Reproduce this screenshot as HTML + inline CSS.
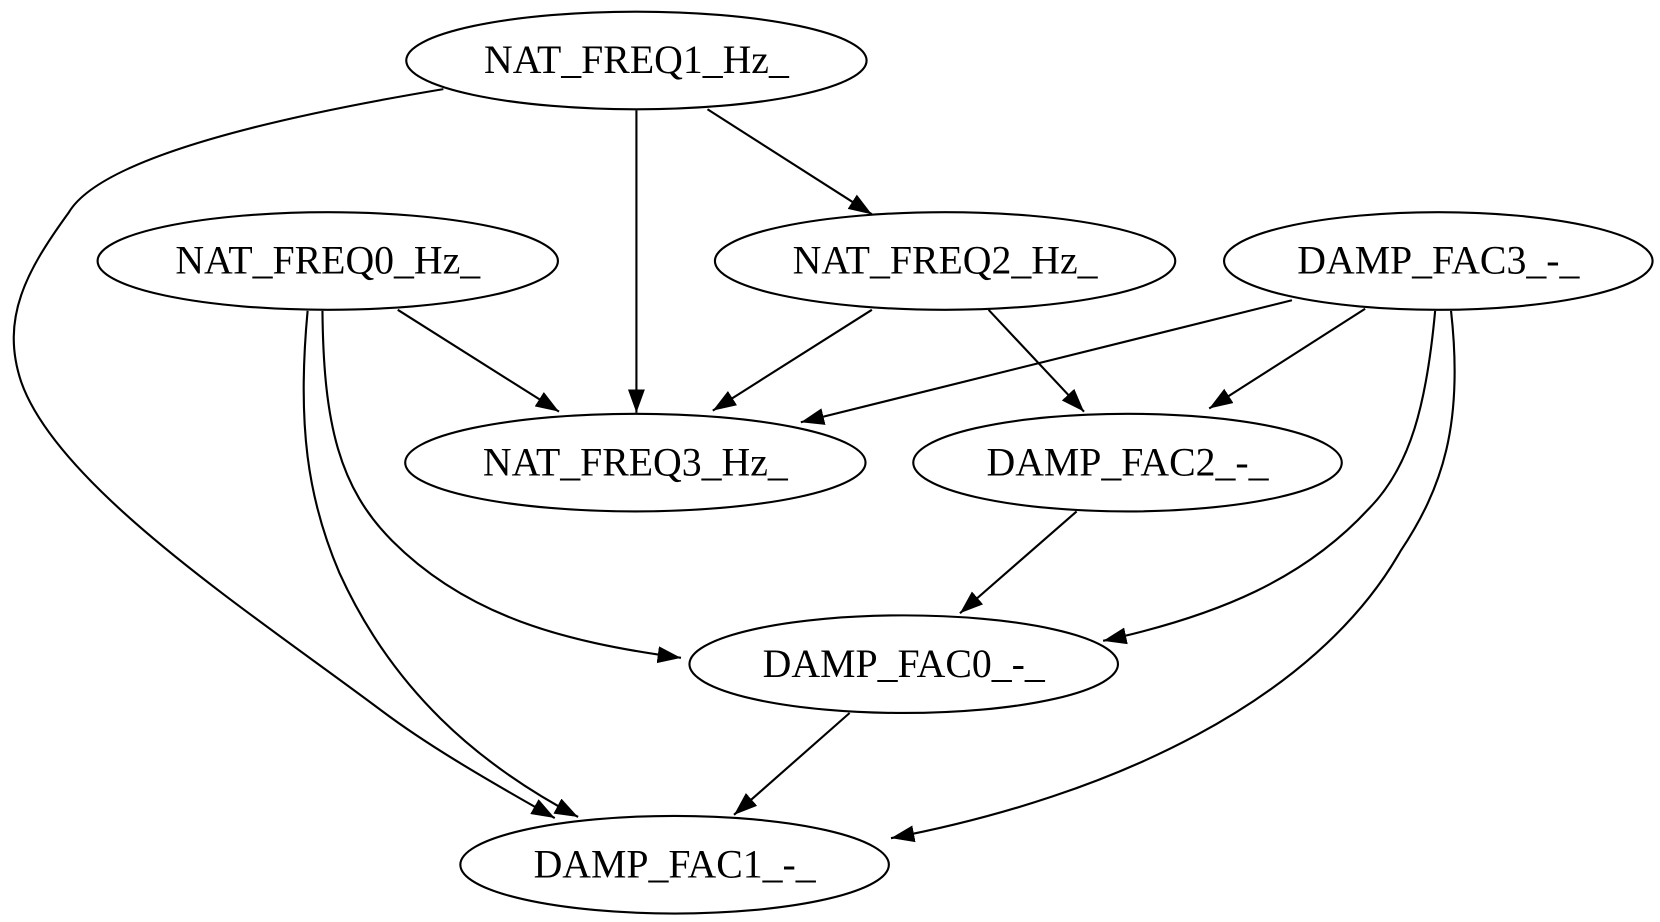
<!DOCTYPE html>
<html><head><meta charset="utf-8"><style>html,body{margin:0;padding:0;background:#fff}svg{display:block}</style></head>
<body>
<svg width="1660" height="922" viewBox="0 0 1565 869" preserveAspectRatio="none" xmlns="http://www.w3.org/2000/svg">
<defs>
<marker id="a" markerUnits="userSpaceOnUse" markerWidth="24" markerHeight="18" refX="22" refY="8" orient="auto">
<path d="M0,0 L22,8 L0,16 Z" fill="#000"/>
</marker>
</defs>
<g fill="none" stroke="#000" stroke-width="2" marker-end="url(#a)">
<path d="M600,104 L600,389"/>
<path d="M667,103 L822,202"/>
<path d="M418,84 C250,112 95,150 65,200 C25,255 0,300 20,360 C55,460 240,580 360,670 C400,700 450,730 523,771"/>
<path d="M375,292 L527,388"/>
<path d="M290,293 C280,400 290,470 320,540 C370,650 450,720 545,770"/>
<path d="M304,293 C305,400 320,460 370,510 C440,580 530,605 642,620"/>
<path d="M822,292 L672,387"/>
<path d="M932,292 L1022,388"/>
<path d="M1218,283 L755,398"/>
<path d="M1287,291 L1140,385"/>
<path d="M1353,293 C1345,380 1330,440 1290,480 C1230,545 1150,580 1040,604"/>
<path d="M1368,293 C1380,400 1360,460 1320,520 C1240,660 1050,750 840,790"/>
<path d="M1015,482 L905,578"/>
<path d="M801,672 L692,768"/>
</g>
<g fill="#fff" stroke="#000" stroke-width="2">
<ellipse cx="600" cy="57" rx="217" ry="46"/>
<ellipse cx="309" cy="246" rx="217" ry="46"/>
<ellipse cx="891" cy="246" rx="217" ry="46"/>
<ellipse cx="1356" cy="246" rx="202" ry="46"/>
<ellipse cx="599" cy="436" rx="217" ry="46"/>
<ellipse cx="1063" cy="436" rx="202" ry="46"/>
<ellipse cx="852" cy="626" rx="202" ry="46"/>
<ellipse cx="636" cy="815" rx="202" ry="46"/>
</g>
<g font-family="Liberation Serif, serif" font-size="37.5" text-anchor="middle" fill="#000">
<text x="600" y="69">NAT_FREQ1_Hz_</text>
<text x="309" y="258">NAT_FREQ0_Hz_</text>
<text x="891" y="258">NAT_FREQ2_Hz_</text>
<text x="1356" y="258">DAMP_FAC3_-_</text>
<text x="599" y="448">NAT_FREQ3_Hz_</text>
<text x="1063" y="448">DAMP_FAC2_-_</text>
<text x="852" y="638">DAMP_FAC0_-_</text>
<text x="636" y="827">DAMP_FAC1_-_</text>
</g>
</svg>
</body></html>
